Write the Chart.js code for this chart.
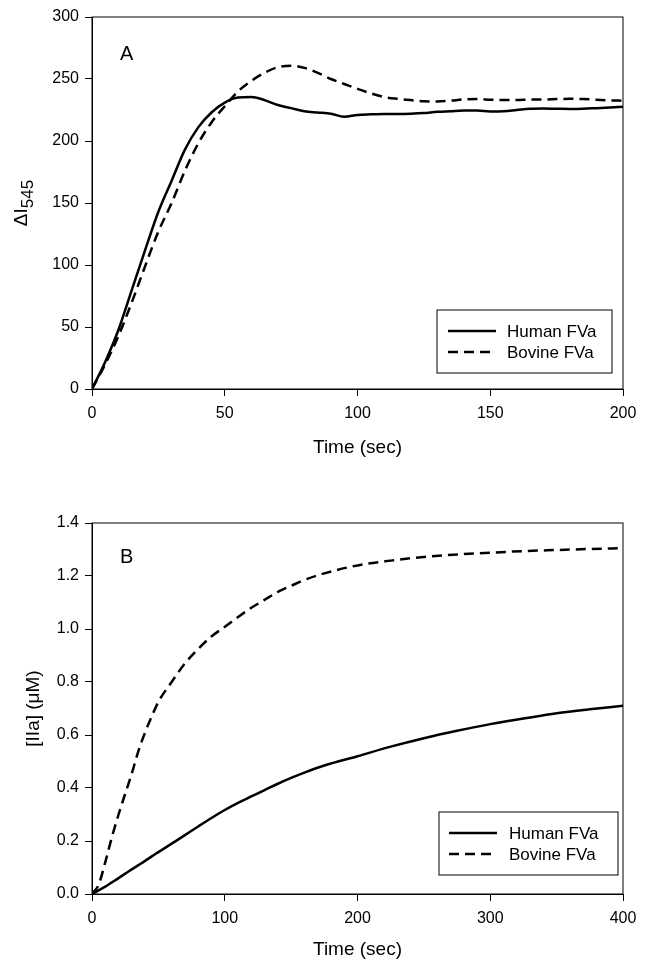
<!DOCTYPE html>
<html>
<head>
<meta charset="utf-8">
<script src="https://cdn.jsdelivr.net/npm/chart.js@4.4.1/dist/chart.umd.min.js"></script>
<style>
  html, body { margin: 0; padding: 0; background: #fff; }
  .wrap { position: relative; width: 649px; }
  #chartA { display: block; width: 649px; height: 486px; }
  #chartB { display: block; width: 649px; height: 487px; }
</style>
</head>
<body>
<div class="wrap"><canvas id="chartA" width="649" height="486"></canvas></div>
<div class="wrap"><canvas id="chartB" width="649" height="487"></canvas></div>
<script>
// Panel A: fluorescence change vs time
var timeA = [0, 5, 10, 15, 20, 25, 30, 35, 40, 45, 50, 55, 60, 65, 70, 75, 80, 85, 90, 95, 100,
             105, 110, 115, 120, 125, 130, 135, 140, 145, 150, 155, 160, 165, 170, 175, 180, 185, 190, 195, 200];
var humanA = [0, 22, 48, 80, 112, 143, 168, 193, 211, 223, 231, 235, 235.5, 233, 229, 226.5, 224, 223, 222, 219.5, 221,
              221.5, 221.8, 221.8, 222, 222.5, 223.5, 224, 224.5, 224.5, 223.8, 224, 225, 226, 226.2, 226, 225.8, 226, 226.5, 227, 227.7];
var bovineA = [0, 20, 43, 70, 99, 127, 150, 176, 198, 215, 228, 240, 248.5, 255, 259.5, 260.7, 259, 255, 250, 246, 242,
               238.5, 235.5, 234, 233, 232, 231.8, 232.5, 233.5, 233.8, 233.3, 233, 233, 233.5, 233.5, 233.8, 234, 233.8, 233.3, 232.8, 232.5];
var ticksAX = [0, 50, 100, 150, 200];
var ticksAY = [0, 50, 100, 150, 200, 250, 300];

// Panel B: thrombin concentration vs time
var timeB = [0, 5, 10, 15, 20, 25, 30, 35, 40, 45, 50, 60, 70, 80, 90, 100, 110, 120, 130, 140, 150, 160, 175,
             200, 225, 250, 275, 300, 325, 350, 375, 400];
var humanB = [0, 0.014, 0.028, 0.044, 0.06, 0.077, 0.093, 0.109, 0.125, 0.142, 0.158, 0.19, 0.222, 0.255, 0.287, 0.317,
              0.344, 0.368, 0.392, 0.416, 0.438, 0.458, 0.485, 0.52, 0.556, 0.588, 0.616, 0.641, 0.662, 0.682, 0.697, 0.71];
var bovineB = [0, 0.035, 0.12, 0.215, 0.3, 0.378, 0.455, 0.54, 0.61, 0.67, 0.725, 0.8, 0.87, 0.925, 0.972, 1.008,
               1.045, 1.08, 1.11, 1.14, 1.163, 1.185, 1.21, 1.24, 1.258, 1.272, 1.281, 1.288, 1.294, 1.298, 1.302, 1.305];
var ticksBX = [0, 100, 200, 300, 400];
var ticksBY = [0, 0.2, 0.4, 0.6, 0.8, 1.0, 1.2, 1.4];

var seriesNames = ['Human FVa', 'Bovine FVa'];
var FONT = "'Liberation Sans', Arial, sans-serif";

Chart.defaults.font.family = FONT;
Chart.defaults.color = '#000';

function pts(xs, ys) {
  var out = [];
  for (var i = 0; i < xs.length; i++) out.push({x: xs[i], y: ys[i]});
  return out;
}

// frame, panel letter, y title (with optional subscript) and boxed legend
var decor = {
  id: 'decor',
  afterDraw: function(chart, args, o) {
    var ctx = chart.ctx, a = chart.chartArea;
    ctx.save();
    ctx.strokeStyle = '#000';
    ctx.lineWidth = 1;
    ctx.strokeRect(a.left, a.top, a.right - a.left, a.bottom - a.top);

    // panel letter
    ctx.fillStyle = '#000';
    ctx.font = '20px ' + FONT;
    ctx.textAlign = 'left';
    ctx.textBaseline = 'alphabetic';
    ctx.fillText(o.panel, o.panelX, o.panelY);

    // y axis title
    ctx.save();
    ctx.font = '19px ' + FONT;
    var w1 = ctx.measureText(o.yMain).width;
    ctx.font = '17px ' + FONT;
    var w2 = o.ySub ? ctx.measureText(o.ySub).width : 0;
    ctx.translate(o.yTitleX, (a.top + a.bottom) / 2);
    ctx.rotate(-Math.PI / 2);
    ctx.font = '19px ' + FONT;
    ctx.fillText(o.yMain, -(w1 + w2) / 2, 0);
    if (o.ySub) {
      ctx.font = '17px ' + FONT;
      ctx.fillText(o.ySub, -(w1 + w2) / 2 + w1, 6);
    }
    ctx.restore();

    // legend
    var L = o.legend;
    ctx.lineWidth = 1;
    ctx.strokeRect(L.x, L.y, L.w, L.h);
    ctx.font = '17px ' + FONT;
    ctx.textBaseline = 'middle';
    chart.data.datasets.forEach(function(ds, i) {
      var ry = L.rows[i];
      ctx.beginPath();
      ctx.lineWidth = 2.5;
      ctx.setLineDash(ds.borderDash || []);
      ctx.moveTo(L.lx0, ry);
      ctx.lineTo(L.lx1, ry);
      ctx.stroke();
      ctx.setLineDash([]);
      ctx.fillText(ds.label, L.tx, ry + 1);
    });
    ctx.restore();
  }
};

function makeChart(id, cfg) {
  return new Chart(document.getElementById(id), {
    type: 'line',
    data: {
      datasets: [{
        label: seriesNames[0],
        data: pts(cfg.t, cfg.human),
        borderColor: '#000',
        borderWidth: 2.5,
        pointRadius: 0,
        cubicInterpolationMode: 'monotone'
      }, {
        label: seriesNames[1],
        data: pts(cfg.t, cfg.bovine),
        borderColor: '#000',
        borderWidth: 2.5,
        borderDash: [10, 6],
        pointRadius: 0,
        cubicInterpolationMode: 'monotone'
      }]
    },
    options: {
      responsive: false,
      animation: false,
      layout: { padding: { top: cfg.padTop, right: 26, left: 0, bottom: 0 } },
      plugins: {
        legend: { display: false },
        tooltip: { enabled: false },
        decor: cfg.decor
      },
      scales: {
        x: {
          type: 'linear',
          min: cfg.xTicks[0],
          max: cfg.xTicks[cfg.xTicks.length - 1],
          afterBuildTicks: function(s) { s.ticks = cfg.xTicks.map(function(v) { return {value: v}; }); },
          ticks: { font: { size: 16 }, color: '#000', padding: 8, maxRotation: 0 },
          grid: { drawOnChartArea: false, drawTicks: true, tickLength: 7, color: '#000' },
          border: { color: '#000', width: 1 },
          title: { display: true, text: 'Time (sec)', font: { size: 19 }, color: '#000', padding: { top: 0, bottom: cfg.xTitlePad } },
          afterFit: function(s) { s.height = cfg.xHeight; }
        },
        y: {
          min: cfg.yTicks[0],
          max: cfg.yTicks[cfg.yTicks.length - 1],
          afterBuildTicks: function(s) { s.ticks = cfg.yTicks.map(function(v) { return {value: v}; }); },
          ticks: { font: { size: 16 }, color: '#000', padding: 6, callback: cfg.yFmt },
          grid: { drawOnChartArea: false, drawTicks: true, tickLength: 7, color: '#000' },
          border: { color: '#000', width: 1 },
          afterFit: function(s) { s.width = 92; }
        }
      }
    },
    plugins: [decor]
  });
}

var chartA = makeChart('chartA', {
  t: timeA, human: humanA, bovine: bovineA,
  xTicks: ticksAX, yTicks: ticksAY,
  yFmt: function(v) { return String(v); },
  padTop: 17, xHeight: 97, xTitlePad: 27,
  decor: {
    panel: 'A', panelX: 120, panelY: 60,
    yMain: '\u0394I', ySub: '545', yTitleX: 27,
    legend: { x: 437, y: 310, w: 175, h: 63, rows: [331, 352], lx0: 448, lx1: 496, tx: 507 }
  }
});

var chartB = makeChart('chartB', {
  t: timeB, human: humanB, bovine: bovineB,
  xTicks: ticksBX, yTicks: ticksBY,
  yFmt: function(v) { return v.toFixed(1); },
  padTop: 37, xHeight: 79, xTitlePad: 12,
  decor: {
    panel: 'B', panelX: 120, panelY: 77,
    yMain: '[IIa] (\u03bcM)', ySub: '', yTitleX: 39,
    legend: { x: 439, y: 326, w: 179, h: 63, rows: [347, 368], lx0: 449, lx1: 497, tx: 509 }
  }
});
</script>
</body>
</html>
